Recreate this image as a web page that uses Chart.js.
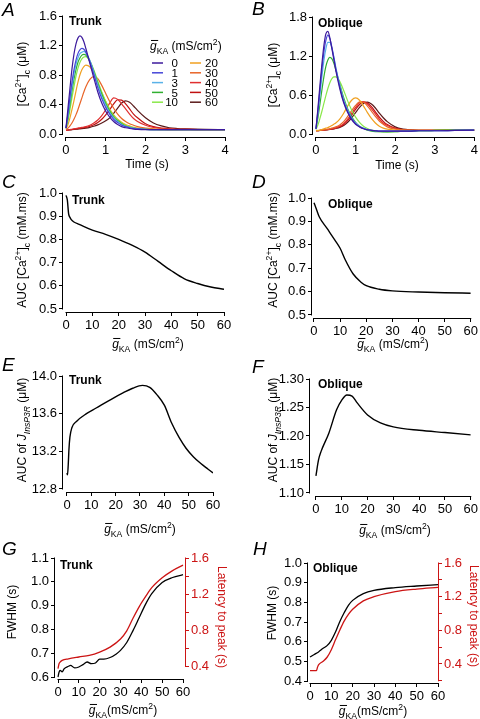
<!DOCTYPE html>
<html>
<head>
<meta charset="utf-8">
<script src="https://cdn.jsdelivr.net/npm/chart.js@4.4.1/dist/chart.umd.min.js"></script>
<style>
  html, body { margin: 0; padding: 0; background: #fff; }
  body { width: 480px; height: 719px; position: relative; overflow: hidden; }
  canvas { position: absolute; }
</style>
</head>
<body>
<canvas id="pA"></canvas>
<canvas id="pB"></canvas>
<canvas id="pC"></canvas>
<canvas id="pD"></canvas>
<canvas id="pE"></canvas>
<canvas id="pF"></canvas>
<canvas id="pG"></canvas>
<canvas id="pH"></canvas>
<script>
// ---- data ----
const timeS = [0, 0.05, 0.1, 0.15, 0.2, 0.25, 0.3, 0.35, 0.4, 0.45, 0.5, 0.6, 0.7, 0.8, 0.9, 1.0, 1.1, 1.2, 1.3, 1.4, 1.5, 1.6, 1.7, 1.8, 2.0, 2.2, 2.4, 2.6, 2.8, 3.0, 3.5, 4.0];
const gLevels = ['0', '1', '3', '5', '10', '20', '30', '40', '50', '60'];
const gColors = ['#3c1a9c', '#4646d8', '#5ab2e8', '#30b030', '#8ae84a', '#f0a020', '#e86428', '#e03030', '#c01010', '#5a1a1a'];

// A: trunk [Ca2+]c transients (uM)
const trunkCa0  = [0.08, 0.35, 0.62, 0.88, 1.08, 1.22, 1.30, 1.33, 1.31, 1.25, 1.16, 0.96, 0.76, 0.57, 0.42, 0.31, 0.23, 0.17, 0.13, 0.10, 0.085, 0.075, 0.068, 0.063, 0.06, 0.06, 0.06, 0.06, 0.06, 0.06, 0.06, 0.06];
const trunkCa1  = [0.08, 0.28, 0.50, 0.70, 0.87, 1.00, 1.09, 1.14, 1.16, 1.15, 1.11, 0.98, 0.81, 0.63, 0.48, 0.36, 0.27, 0.20, 0.155, 0.12, 0.10, 0.085, 0.075, 0.07, 0.063, 0.06, 0.06, 0.06, 0.06, 0.06, 0.06, 0.06];
const trunkCa3  = [0.08, 0.25, 0.45, 0.64, 0.81, 0.94, 1.03, 1.09, 1.11, 1.12, 1.10, 1.00, 0.84, 0.67, 0.51, 0.39, 0.29, 0.22, 0.17, 0.13, 0.105, 0.09, 0.08, 0.07, 0.063, 0.06, 0.06, 0.06, 0.06, 0.06, 0.06, 0.06];
const trunkCa5  = [0.08, 0.22, 0.40, 0.58, 0.74, 0.87, 0.97, 1.03, 1.07, 1.08, 1.07, 0.99, 0.85, 0.69, 0.54, 0.41, 0.31, 0.23, 0.18, 0.14, 0.11, 0.09, 0.08, 0.07, 0.063, 0.06, 0.06, 0.06, 0.06, 0.06, 0.06, 0.06];
const trunkCa10 = [0.08, 0.18, 0.33, 0.49, 0.64, 0.78, 0.89, 0.97, 1.02, 1.045, 1.05, 0.99, 0.87, 0.72, 0.57, 0.44, 0.33, 0.25, 0.19, 0.15, 0.12, 0.10, 0.085, 0.075, 0.065, 0.06, 0.06, 0.06, 0.06, 0.06, 0.06, 0.06];
const trunkCa20 = [0.07, 0.13, 0.22, 0.33, 0.45, 0.58, 0.70, 0.80, 0.87, 0.915, 0.935, 0.91, 0.82, 0.69, 0.56, 0.44, 0.34, 0.26, 0.20, 0.16, 0.13, 0.11, 0.09, 0.08, 0.07, 0.065, 0.06, 0.06, 0.06, 0.06, 0.06, 0.06];
const trunkCa30 = [0.06, 0.08, 0.11, 0.15, 0.20, 0.26, 0.33, 0.41, 0.49, 0.57, 0.64, 0.74, 0.78, 0.75, 0.66, 0.55, 0.44, 0.35, 0.27, 0.21, 0.17, 0.14, 0.12, 0.10, 0.08, 0.07, 0.065, 0.06, 0.06, 0.06, 0.06, 0.06];
const trunkCa40 = [0.05, 0.055, 0.06, 0.065, 0.07, 0.075, 0.08, 0.085, 0.09, 0.095, 0.10, 0.12, 0.15, 0.19, 0.25, 0.33, 0.42, 0.49, 0.47, 0.41, 0.34, 0.27, 0.21, 0.17, 0.12, 0.09, 0.075, 0.07, 0.065, 0.063, 0.06, 0.06];
const trunkCa50 = [0.05, 0.055, 0.058, 0.062, 0.066, 0.07, 0.074, 0.078, 0.082, 0.086, 0.09, 0.105, 0.125, 0.155, 0.20, 0.26, 0.33, 0.41, 0.465, 0.46, 0.41, 0.34, 0.27, 0.22, 0.14, 0.10, 0.08, 0.07, 0.065, 0.063, 0.06, 0.06];
const trunkCa60 = [0.05, 0.053, 0.056, 0.059, 0.062, 0.065, 0.068, 0.071, 0.074, 0.077, 0.08, 0.09, 0.105, 0.125, 0.15, 0.18, 0.22, 0.28, 0.35, 0.42, 0.45, 0.43, 0.38, 0.32, 0.22, 0.15, 0.11, 0.085, 0.075, 0.07, 0.063, 0.06];

// B: oblique [Ca2+]c transients (uM)
const oblCa0  = [0.08, 0.40, 0.75, 1.08, 1.36, 1.54, 1.58, 1.48, 1.32, 1.15, 0.98, 0.70, 0.48, 0.33, 0.22, 0.15, 0.11, 0.08, 0.065, 0.055, 0.05, 0.045, 0.045, 0.045, 0.045, 0.045, 0.045, 0.05, 0.05, 0.05, 0.055, 0.06];
const oblCa1  = [0.08, 0.36, 0.68, 0.99, 1.26, 1.44, 1.52, 1.47, 1.34, 1.18, 1.01, 0.73, 0.50, 0.35, 0.24, 0.16, 0.11, 0.085, 0.065, 0.055, 0.05, 0.045, 0.045, 0.045, 0.045, 0.045, 0.045, 0.05, 0.05, 0.05, 0.055, 0.06];
const oblCa3  = [0.08, 0.32, 0.60, 0.88, 1.13, 1.31, 1.41, 1.41, 1.33, 1.19, 1.03, 0.76, 0.53, 0.37, 0.25, 0.17, 0.12, 0.09, 0.07, 0.055, 0.05, 0.045, 0.045, 0.045, 0.045, 0.045, 0.045, 0.05, 0.05, 0.05, 0.055, 0.06];
const oblCa5  = [0.08, 0.25, 0.46, 0.68, 0.88, 1.04, 1.14, 1.18, 1.16, 1.09, 0.99, 0.77, 0.56, 0.39, 0.27, 0.18, 0.12, 0.085, 0.06, 0.045, 0.038, 0.035, 0.033, 0.033, 0.035, 0.04, 0.045, 0.05, 0.05, 0.055, 0.06, 0.06];
const oblCa10 = [0.07, 0.14, 0.24, 0.35, 0.47, 0.59, 0.70, 0.79, 0.85, 0.88, 0.88, 0.81, 0.67, 0.51, 0.37, 0.26, 0.18, 0.12, 0.085, 0.06, 0.045, 0.038, 0.035, 0.033, 0.035, 0.04, 0.045, 0.05, 0.05, 0.055, 0.06, 0.06];
const oblCa20 = [0.05, 0.055, 0.06, 0.07, 0.08, 0.09, 0.10, 0.115, 0.13, 0.15, 0.17, 0.23, 0.32, 0.43, 0.52, 0.555, 0.52, 0.43, 0.33, 0.24, 0.17, 0.12, 0.09, 0.075, 0.06, 0.055, 0.055, 0.055, 0.055, 0.055, 0.06, 0.06];
const oblCa30 = [0.05, 0.053, 0.056, 0.06, 0.065, 0.07, 0.075, 0.08, 0.09, 0.10, 0.11, 0.14, 0.19, 0.27, 0.36, 0.44, 0.495, 0.49, 0.43, 0.35, 0.27, 0.20, 0.15, 0.11, 0.075, 0.06, 0.055, 0.055, 0.055, 0.055, 0.06, 0.06];
const oblCa40 = [0.05, 0.052, 0.055, 0.058, 0.062, 0.066, 0.07, 0.075, 0.08, 0.087, 0.095, 0.12, 0.16, 0.23, 0.32, 0.41, 0.48, 0.50, 0.46, 0.39, 0.31, 0.23, 0.17, 0.13, 0.085, 0.065, 0.058, 0.055, 0.055, 0.055, 0.06, 0.06];
const oblCa50 = [0.05, 0.052, 0.054, 0.057, 0.06, 0.064, 0.068, 0.072, 0.077, 0.083, 0.09, 0.11, 0.145, 0.205, 0.29, 0.38, 0.455, 0.49, 0.475, 0.42, 0.34, 0.26, 0.195, 0.145, 0.09, 0.068, 0.06, 0.057, 0.056, 0.056, 0.06, 0.06];
const oblCa60 = [0.05, 0.052, 0.054, 0.056, 0.059, 0.062, 0.066, 0.07, 0.074, 0.079, 0.085, 0.10, 0.13, 0.18, 0.25, 0.33, 0.41, 0.47, 0.49, 0.46, 0.40, 0.32, 0.25, 0.19, 0.11, 0.075, 0.063, 0.058, 0.057, 0.057, 0.06, 0.06];

// C: trunk AUC [Ca2+]c (mM.ms)
const aucTrunkG  = [0, 0.5, 1, 1.5, 2, 3, 5, 10, 15, 20, 25, 30, 35, 40, 45, 50, 55, 60];
const aucTrunkCa = [0.99, 0.97, 0.91, 0.895, 0.885, 0.875, 0.865, 0.84, 0.822, 0.80, 0.775, 0.745, 0.705, 0.665, 0.63, 0.61, 0.595, 0.585];
// D: oblique AUC [Ca2+]c (mM.ms)
const aucOblG  = [0, 1, 2, 5, 8, 10, 12, 15, 18, 20, 25, 30, 40, 50, 60];
const aucOblCa = [0.98, 0.95, 0.92, 0.87, 0.82, 0.785, 0.735, 0.675, 0.64, 0.625, 0.61, 0.603, 0.598, 0.595, 0.593];
// E: trunk AUC of J_InsP3R (uM)
const jTrunkG = [0, 0.2, 0.5, 0.8, 1.2, 2, 4, 8, 12, 18, 23, 27, 31, 34, 37, 40, 43, 46, 49, 52, 55, 58, 60];
const jTrunk  = [12.97, 12.95, 13.05, 13.22, 13.35, 13.45, 13.52, 13.60, 13.66, 13.75, 13.82, 13.87, 13.90, 13.88, 13.80, 13.69, 13.50, 13.35, 13.23, 13.14, 13.07, 13.01, 12.97];
// F: oblique AUC of J_InsP3R (uM)
const jOblG = [0, 1, 2, 5, 8, 10, 12, 14, 16, 20, 25, 30, 40, 50, 60];
const jObl  = [1.13, 1.158, 1.173, 1.205, 1.246, 1.263, 1.272, 1.27, 1.258, 1.237, 1.223, 1.216, 1.21, 1.206, 1.202];
// G: trunk FWHM (s) and latency to peak (s)
const fwhmTrunkG = [0, 0.5, 1, 2, 3, 5, 6, 8, 10, 12, 14, 16, 18, 20, 22, 25, 28, 30, 33, 36, 39, 42, 45, 50, 55, 60];
const fwhmTrunk  = [0.60, 0.62, 0.628, 0.622, 0.635, 0.645, 0.649, 0.638, 0.642, 0.652, 0.663, 0.656, 0.659, 0.675, 0.675, 0.682, 0.697, 0.712, 0.745, 0.795, 0.85, 0.905, 0.95, 0.997, 1.018, 1.03];
const latTrunkG = [0, 0.5, 1, 2, 5, 10, 15, 20, 25, 30, 33, 36, 39, 42, 45, 50, 55, 60];
const latTrunk  = [0.37, 0.425, 0.443, 0.462, 0.48, 0.5, 0.518, 0.555, 0.61, 0.70, 0.79, 0.93, 1.06, 1.17, 1.27, 1.38, 1.46, 1.52];
// H: oblique FWHM (s) and latency to peak (s)
const fwhmOblG = [0, 2, 4, 6, 8, 10, 12, 14, 16, 18, 20, 25, 30, 40, 50, 60];
const fwhmObl  = [0.522, 0.535, 0.548, 0.565, 0.58, 0.607, 0.65, 0.703, 0.747, 0.785, 0.81, 0.844, 0.861, 0.875, 0.883, 0.89];
const latOblG = [0, 3, 3.5, 4, 6, 8, 10, 12, 14, 16, 18, 20, 25, 30, 40, 50, 60];
const latObl  = [0.32, 0.32, 0.36, 0.39, 0.43, 0.48, 0.57, 0.69, 0.805, 0.91, 0.99, 1.05, 1.15, 1.2, 1.26, 1.29, 1.31];

// tick labels
const timeTicks = [0, 1, 2, 3, 4];
const gTicks = [0, 10, 20, 30, 40, 50, 60];
const caTrunkTicks = [0, 0.4, 0.8, 1.2, 1.6];
const caOblTicks = [0, 0.6, 1.2, 1.8];
const aucTicks = [0.5, 0.6, 0.7, 0.8, 0.9, 1.0];
const jTrunkTicks = [12.8, 13.2, 13.6, 14.0];
const jOblTicks = [1.10, 1.15, 1.20, 1.25, 1.30];
const fwhmTrunkTicks = [0.6, 0.7, 0.8, 0.9, 1.0, 1.1];
const fwhmOblTicks = [0.4, 0.5, 0.6, 0.7, 0.8, 0.9, 1.0];
const latTrunkTicks = [0.4, 0.6, 0.8, 1.0, 1.2, 1.4, 1.6];
const latOblTicks = [0.2, 0.4, 0.6, 0.8, 1.0, 1.2, 1.4, 1.6];
const latLabeled = [0.4, 0.8, 1.2, 1.6];

// ---- drawing ----
const FONT = "'Liberation Sans', Arial, Helvetica, sans-serif";
const RED = '#cc1414';
const Y_W = 32, X_H = 22;
Chart.defaults.font.family = FONT;
Chart.defaults.font.size = 13;
Chart.defaults.color = '#000';

function pts(xs, ys) {
    return xs.map((x, i) => ({ x: x, y: ys[i] }));
}

function line(data, color, label, axis, width) {
    return {
        label: label, data: data, borderColor: color, borderWidth: width || 1.2,
        showLine: true, pointRadius: 0, fill: false,
        cubicInterpolationMode: 'monotone', yAxisID: axis || 'y'
    };
}

function axisX(min, max, ticks) {
    return {
        type: 'linear', position: 'bottom', min: min, max: max,
        afterBuildTicks: s => { s.ticks = ticks.map(v => ({ value: v })); },
        afterFit: s => { s.height = X_H; },
        ticks: { autoSkip: false, maxRotation: 0, padding: 2, callback: v => String(v) },
        grid: { drawOnChartArea: false, tickLength: 4, color: '#000' },
        border: { display: false }
    };
}

function axisY(min, max, ticks, dec, pos, color, labeled) {
    color = color || '#000';
    return {
        type: 'linear', position: pos || 'left', min: min, max: max,
        afterBuildTicks: s => { s.ticks = ticks.map(v => ({ value: v })); },
        afterFit: s => { s.width = Y_W; },
        ticks: {
            autoSkip: false, padding: 2, color: color,
            callback: v => (!labeled || labeled.some(l => Math.abs(l - v) < 1e-6)) ? v.toFixed(dec) : ''
        },
        grid: { drawOnChartArea: false, tickLength: 4, color: color },
        border: { display: false }
    };
}

// rich text: segments with optional sub / sup / italic / overbar
function drawRich(ctx, segs, x, y, o) {
    const size = o.size || 12;
    ctx.save();
    ctx.translate(x, y);
    if (o.rot) ctx.rotate(o.rot);
    ctx.fillStyle = o.color || '#000';
    ctx.strokeStyle = o.color || '#000';
    ctx.textBaseline = 'alphabetic';
    ctx.textAlign = 'left';
    const fontOf = s => {
        const sz = (s.sub || s.sup) ? size * 0.72 : size;
        return (s.it ? 'italic ' : '') + (o.bold ? 'bold ' : '') + sz + 'px ' + FONT;
    };
    let total = 0;
    segs.forEach(s => { ctx.font = fontOf(s); total += ctx.measureText(s.t).width; });
    let cx = o.align === 'left' ? 0 : (o.align === 'right' ? -total : -total / 2);
    const base = size * 0.36;
    segs.forEach(s => {
        ctx.font = fontOf(s);
        const w = ctx.measureText(s.t).width;
        let dy = base;
        if (s.sup) dy -= size * 0.42;
        if (s.sub) dy += size * 0.28;
        ctx.fillText(s.t, cx, dy);
        if (s.bar) {
            ctx.lineWidth = 1;
            ctx.beginPath();
            ctx.moveTo(cx + 1, base - size * 0.82);
            ctx.lineTo(cx + w + 1.5, base - size * 0.82);
            ctx.stroke();
        }
        cx += w;
    });
    ctx.restore();
}

const decor = {
    id: 'decor',
    afterDraw(chart, args, opt) {
        const ctx = chart.ctx;
        const ox = opt.rect.l, oy = opt.rect.t;
        // detached axis lines, first tick to last tick
        Object.values(chart.scales).forEach(sc => {
            const t = sc.ticks;
            if (!t.length) return;
            const a = sc.getPixelForValue(t[0].value);
            const b = sc.getPixelForValue(t[t.length - 1].value);
            ctx.save();
            ctx.strokeStyle = sc.options.grid.color;
            ctx.lineWidth = 1;
            ctx.beginPath();
            if (sc.isHorizontal()) {
                const yy = Math.round(sc.top) + 0.5;
                ctx.moveTo(Math.min(a, b) - 0.5, yy); ctx.lineTo(Math.max(a, b) + 0.5, yy);
            } else {
                const xx = sc.position === 'left' ? Math.round(sc.right) - 0.5 : Math.round(sc.left) + 0.5;
                ctx.moveTo(xx, Math.min(a, b) - 0.5); ctx.lineTo(xx, Math.max(a, b) + 0.5);
            }
            ctx.stroke();
            ctx.restore();
        });
        (opt.texts || []).forEach(tx => {
            drawRich(ctx, tx.s, tx.x - ox, tx.y - oy, tx);
        });
        if (opt.legend) {
            const L = opt.legend;
            drawRich(ctx, L.head, L.headX - ox, L.headY - oy, { size: 12, align: 'left' });
            chart.data.datasets.forEach((ds, i) => {
                const col = i < 5 ? 0 : 1;
                const row = i % 5;
                const yy = L.rows[row] - oy;
                const c = L.cols[col];
                ctx.save();
                ctx.strokeStyle = ds.borderColor;
                ctx.lineWidth = 1.5;
                ctx.beginPath();
                ctx.moveTo(c.x1 - ox, yy); ctx.lineTo(c.x2 - ox, yy);
                ctx.stroke();
                ctx.restore();
                drawRich(ctx, [{ t: ds.label }], c.lx - ox, yy, { size: 11.5, align: c.align });
            });
        }
    }
};

const gbar = [{ t: 'g', it: 1, bar: 1 }, { t: 'KA', sub: 1 }];
const gTitle = gbar.concat([{ t: ' (mS/cm' }, { t: '2', sup: 1 }, { t: ')' }]);
const gTitleTight = gbar.concat([{ t: '(mS/cm' }, { t: '2', sup: 1 }, { t: ')' }]);
const caTitle = [{ t: '[Ca' }, { t: '2+', sup: 1 }, { t: ']' }, { t: 'c', sub: 1 }, { t: ' (\u03bcM)' }];
const aucTitle = [{ t: 'AUC [Ca' }, { t: '2+', sup: 1 }, { t: ']' }, { t: 'c', sub: 1 }, { t: ' (mM.ms)' }];
const jTitle = [{ t: 'AUC of ' }, { t: 'J', it: 1 }, { t: 'InsP3R', sub: 1, it: 1 }, { t: ' (\u03bcM)' }];
const UP = -Math.PI / 2, DOWN = Math.PI / 2;

function letter(ch, x, y) { return { s: [{ t: ch, it: 1 }], x: x, y: y, size: 19, align: 'left' }; }
function tag(txt, x, y) { return { s: [{ t: txt }], x: x, y: y, size: 12, bold: true, align: 'left' }; }

function makePanel(id, rect, area, scales, datasets, decorOpt) {
    const cv = document.getElementById(id);
    cv.width = rect.r - rect.l; cv.height = rect.b - rect.t;
    cv.style.left = rect.l + 'px'; cv.style.top = rect.t + 'px';
    const hasY2 = !!scales.y2;
    const padding = {
        left: area.l - rect.l - Y_W,
        right: rect.r - area.r - (hasY2 ? Y_W : 0),
        top: area.t - rect.t,
        bottom: rect.b - area.b - X_H
    };
    decorOpt.rect = rect;
    new Chart(cv.getContext('2d'), {
        type: 'scatter',
        data: { datasets: datasets },
        options: {
            responsive: false, animation: false, devicePixelRatio: 1, events: [],
            layout: { padding: padding },
            scales: scales,
            plugins: { legend: { display: false }, tooltip: { enabled: false }, decor: decorOpt }
        },
        plugins: [decor]
    });
}

const trunkCaSeries = [trunkCa0, trunkCa1, trunkCa3, trunkCa5, trunkCa10, trunkCa20, trunkCa30, trunkCa40, trunkCa50, trunkCa60];
const oblCaSeries = [oblCa0, oblCa1, oblCa3, oblCa5, oblCa10, oblCa20, oblCa30, oblCa40, oblCa50, oblCa60];

// canvases overlap a little so sub/superscripts are never clipped
const rowA = { t: 0, b: 182 }, rowC = { t: 170, b: 356 }, rowE = { t: 346, b: 542 }, rowG = { t: 530, b: 719 };

// A
makePanel('pA', { l: 0, t: rowA.t, r: 240, b: rowA.b }, { l: 63, r: 225, t: 16, b: 137 },
    { x: axisX(-0.075, 4, timeTicks), y: axisY(-0.04, 1.6, caTrunkTicks, 1) },
    gLevels.map((g, i) => line(pts(timeS, trunkCaSeries[i]), gColors[i], g)),
    {
        texts: [letter('A', 2, 9.5), tag('Trunk', 69, 21),
            { s: caTitle, x: 22, y: 74, rot: UP }, { s: [{ t: 'Time (s)' }], x: 147, y: 164 }],
        legend: {
            head: gTitle, headX: 150, headY: 46,
            rows: [63, 72.8, 82.6, 92.4, 102.2],
            cols: [{ x1: 152, x2: 163, lx: 178, align: 'right' }, { x1: 190, x2: 201, lx: 205, align: 'left' }]
        }
    });

// B
makePanel('pB', { l: 240, t: rowA.t, r: 480, b: rowA.b }, { l: 313, r: 476, t: 17, b: 137 },
    { x: axisX(-0.075, 4, timeTicks), y: axisY(-0.046, 1.8, caOblTicks, 1) },
    gLevels.map((g, i) => line(pts(timeS, oblCaSeries[i]), gColors[i], g)),
    { texts: [letter('B', 252, 8.5), tag('Oblique', 318, 23),
        { s: caTitle, x: 273, y: 75, rot: UP }, { s: [{ t: 'Time (s)' }], x: 397, y: 165 }] });

// C
makePanel('pC', { l: 0, t: rowC.t, r: 240, b: rowC.b }, { l: 63, r: 224, t: 193, b: 312 },
    { x: axisX(-1.14, 60, gTicks), y: axisY(0.487, 1.0, aucTicks, 1) },
    [line(pts(aucTrunkG, aucTrunkCa), '#000', 'trunk', 'y', 1.4)],
    { texts: [letter('C', 2, 181), tag('Trunk', 72, 200),
        { s: aucTitle, x: 22, y: 250, rot: UP }, { s: gTitle, x: 148, y: 344 }] });

// D
makePanel('pD', { l: 240, t: rowC.t, r: 480, b: rowC.b }, { l: 312, r: 472, t: 198, b: 318 },
    { x: axisX(-0.76, 60, gTicks), y: axisY(0.487, 1.0, aucTicks, 1) },
    [line(pts(aucOblG, aucOblCa), '#000', 'oblique', 'y', 1.4)],
    { texts: [letter('D', 252, 181.5), tag('Oblique', 328, 204),
        { s: aucTitle, x: 273, y: 250, rot: UP }, { s: gTitle, x: 393, y: 344 }] });

// E
makePanel('pE', { l: 0, t: rowE.t, r: 240, b: rowE.b }, { l: 63, r: 213, t: 376, b: 492 },
    { x: axisX(-1.64, 60, gTicks), y: axisY(12.768, 14.0, jTrunkTicks, 1) },
    [line(pts(jTrunkG, jTrunk), '#000', 'trunk', 'y', 1.4)],
    { texts: [letter('E', 2, 364), tag('Trunk', 69, 380),
        { s: jTitle, x: 22, y: 430, rot: UP }, { s: gTitle, x: 140, y: 529 }] });

// F
makePanel('pF', { l: 240, t: rowE.t, r: 480, b: rowE.b }, { l: 310, r: 473, t: 379, b: 496 },
    { x: axisX(-2.3, 60, gTicks), y: axisY(1.0947, 1.30, jOblTicks, 2) },
    [line(pts(jOblG, jObl), '#000', 'oblique', 'y', 1.4)],
    { texts: [letter('F', 252, 366), tag('Oblique', 318, 384),
        { s: jTitle, x: 273, y: 430, rot: UP }, { s: gTitle, x: 395, y: 530 }] });

// G
makePanel('pG', { l: 0, t: rowG.t, r: 240, b: rowG.b }, { l: 55, r: 185, t: 558, b: 679 },
    {
        x: axisX(-1.44, 60.96, gTicks), y: axisY(0.5916, 1.1, fwhmTrunkTicks, 1),
        y2: axisY(0.2556, 1.6, latTrunkTicks, 1, 'right', RED, latLabeled)
    },
    [line(pts(latTrunkG, latTrunk), RED, 'latency', 'y2', 1.3), line(pts(fwhmTrunkG, fwhmTrunk), '#000', 'fwhm', 'y', 1.3)],
    { texts: [letter('G', 2, 548.5), tag('Trunk', 60, 565),
        { s: [{ t: 'FWHM (s)' }], x: 12, y: 612, rot: UP },
        { s: [{ t: 'Latency to peak (s)' }], x: 222, y: 617, rot: DOWN, color: RED },
        { s: gTitleTight, x: 123, y: 710 }] });

// H
makePanel('pH', { l: 240, t: rowG.t, r: 480, b: rowG.b }, { l: 308, r: 438, t: 563, b: 683 },
    {
        x: axisX(-0.94, 60, gTicks), y: axisY(0.39, 1.0, fwhmOblTicks, 1),
        y2: axisY(0.174, 1.6, latOblTicks, 1, 'right', RED, latLabeled)
    },
    [line(pts(latOblG, latObl), RED, 'latency', 'y2', 1.3), line(pts(fwhmOblG, fwhmObl), '#000', 'fwhm', 'y', 1.3)],
    { texts: [letter('H', 253, 548.5), tag('Oblique', 313, 568),
        { s: [{ t: 'FWHM (s)' }], x: 272, y: 613, rot: UP },
        { s: [{ t: 'Latency to peak (s)' }], x: 474, y: 616, rot: DOWN, color: RED },
        { s: gTitleTight, x: 373, y: 711 }] });
</script>
</body>
</html>
